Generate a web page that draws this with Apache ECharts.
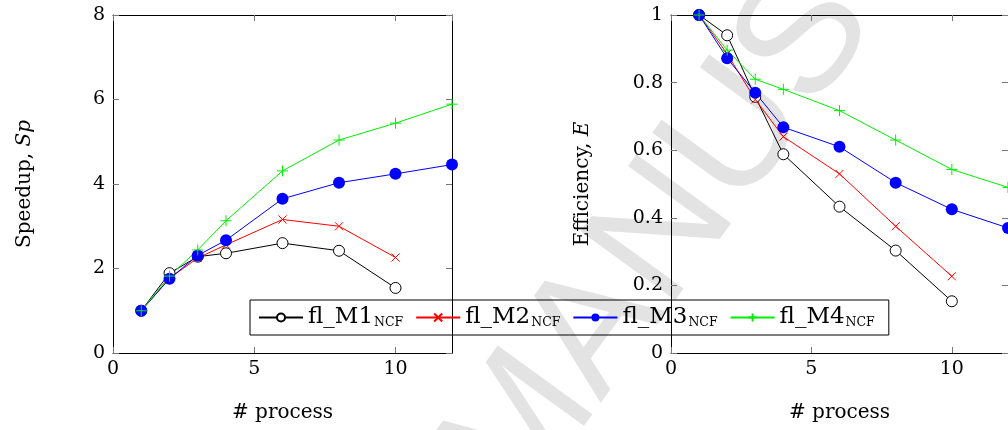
<!DOCTYPE html>
<html>
<head>
<meta charset="utf-8">
<script src="https://cdn.jsdelivr.net/npm/echarts@6/dist/echarts.min.js"></script>
<style>html,body{margin:0;padding:0;background:#fff;}#c{width:1008px;height:430px;}</style>
</head>
<body>
<div id="c"></div>
<script>
const procs = [1, 2, 3, 4, 6, 8, 10, 12];
const seriesNames = ['fl_M1', 'fl_M2', 'fl_M3', 'fl_M4'];
const spM1 = [1.0, 1.89, 2.28, 2.36, 2.60, 2.42, 1.54];
const spM2 = [1.0, 1.77, 2.25, 2.56, 3.16, 3.00, 2.26];
const spM3 = [1.0, 1.76, 2.31, 2.67, 3.65, 4.03, 4.24, 4.46];
const spM4 = [1.0, 1.82, 2.44, 3.13, 4.31, 5.04, 5.44, 5.89];
const effM1 = [1.0, 0.94, 0.758, 0.588, 0.433, 0.303, 0.153];
const effM2 = [1.0, 0.885, 0.75, 0.64, 0.53, 0.375, 0.227];
const effM3 = [1.0, 0.872, 0.77, 0.668, 0.61, 0.504, 0.425, 0.37];
const effM4 = [1.0, 0.896, 0.81, 0.78, 0.717, 0.63, 0.543, 0.49];
const spTicks = [0, 2, 4, 6, 8];
const effTicks = [0, 0.2, 0.4, 0.6, 0.8, 1];

const FONT = 'DejaVu Serif';
const pairs = (vals) => vals.map((v, i) => [procs[i], v]);

const styles = [
  {color: '#000', symbol: 'circle', size: 11, fill: '#fff'},
  {color: '#ff0000', symbol: 'path://M0,0L10,10M10,0L0,10', size: 8},
  {color: '#0000ff', symbol: 'circle', size: 12},
  {color: '#00ee00', symbol: 'path://M5,0L5,10M0,5L10,5', size: 11}
];

function mkSeries(name, vals, st, xi, yi) {
  const isPath = st.symbol.indexOf('path://') === 0;
  let itemStyle;
  if (isPath) itemStyle = {color: st.color, borderColor: st.color, borderWidth: 1};
  else if (st.fill) itemStyle = {color: st.fill, borderColor: st.color, borderWidth: 1};
  else itemStyle = {color: st.color, borderWidth: 0};
  return {
    name: name, type: 'line', xAxisIndex: xi, yAxisIndex: yi,
    data: pairs(vals),
    symbol: st.symbol, symbolSize: st.size,
    lineStyle: {color: st.color, width: 1},
    itemStyle: itemStyle,
    clip: true,
    animation: false,
    z: 3
  };
}

function xAx(gi, pos, showLabels, name) {
  return {
    type: 'value', gridIndex: gi, position: pos, min: 0, max: 12, interval: 5,
    name: name, nameLocation: 'middle', nameGap: 50,
    nameTextStyle: {fontFamily: FONT, fontSize: 20, color: '#000'},
    axisLine: {show: true, onZero: false, lineStyle: {color: '#000', width: 1}},
    axisTick: {show: true, inside: true, length: 6, lineStyle: {color: '#777', width: 1}},
    axisLabel: {show: showLabels, showMaxLabel: false, fontFamily: FONT, fontSize: 19, color: '#000', margin: 7},
    splitLine: {show: false}
  };
}
function yAx(gi, pos, showLabels, max, interval, nameRich) {
  return {
    type: 'value', gridIndex: gi, position: pos, min: 0, max: max, interval: interval,
    name: nameRich, nameLocation: 'middle', nameGap: 78, nameRotate: 90,
    nameTextStyle: {fontFamily: FONT, fontSize: 20, color: '#000',
      rich: {a: {fontFamily: FONT, fontSize: 20, color: '#000'}, b: {fontFamily: FONT, fontSize: 20, color: '#000', fontStyle: 'italic'}}},
    axisLine: {show: true, onZero: false, lineStyle: {color: '#000', width: 1}},
    axisTick: {show: true, inside: true, length: 6, lineStyle: {color: '#777', width: 1}},
    axisLabel: {show: showLabels, fontFamily: FONT, fontSize: 19, color: '#000', margin: 8},
    splitLine: {show: false}
  };
}

const series = [];
const spAll = [spM1, spM2, spM3, spM4];
const effAll = [effM1, effM2, effM3, effM4];
for (let i = 0; i < 4; i++) series.push(mkSeries(seriesNames[i], spAll[i], styles[i], 0, 0));
for (let i = 0; i < 4; i++) series.push(mkSeries(seriesNames[i], effAll[i], styles[i], 2, 2));

const option = {
  backgroundColor: '#fff',
  animation: false,
  grid: [
    {left: 113, top: 15, width: 339, height: 338},
    {left: 671, top: 15, width: 339, height: 338}
  ],
  xAxis: [
    xAx(0, 'bottom', true, '# process'),
    xAx(0, 'top', false, ''),
    xAx(1, 'bottom', true, '# process'),
    xAx(1, 'top', false, '')
  ],
  yAxis: [
    yAx(0, 'left', true, spTicks[spTicks.length - 1], spTicks[1] - spTicks[0], '{a|Speedup, }{b|Sp}'),
    yAx(0, 'right', false, spTicks[spTicks.length - 1], spTicks[1] - spTicks[0], ''),
    yAx(1, 'left', true, effTicks[effTicks.length - 1], 0.2, '{a|Efficiency, }{b|E}'),
    yAx(1, 'right', false, effTicks[effTicks.length - 1], 0.2, '')
  ],
  legend: {
    data: seriesNames,
    left: 250, top: 300,
    orient: 'horizontal',
    itemWidth: 44, itemHeight: 10, itemGap: 12,
    padding: [6, 14, 6, 8],
    borderColor: '#000', borderWidth: 1,
    backgroundColor: 'rgba(255,255,255,0)',
    formatter: (n) => '{m|' + n + '}{s|NCF}',
    textStyle: {
      fontFamily: FONT, color: '#000',
      rich: {
        m: {fontFamily: FONT, fontSize: 23, color: '#000', lineHeight: 28, verticalAlign: 'middle'},
        s: {fontFamily: FONT, fontSize: 12.5, color: '#000', lineHeight: 28, padding: [10, 0, 0, 1], verticalAlign: 'middle'}
      }
    },
    selectedMode: false
  },
  graphic: [{
    type: 'text', z: -10, silent: true,
    x: 548, y: 540, rotation: 54 * Math.PI / 180,
    style: {text: 'MANUSCRIPT', fontFamily: 'Liberation Sans', fontSize: 170, fill: '#e3e3e3', textAlign: 'left', textVerticalAlign: 'bottom'}
  }],
  series: series
};
const chart = echarts.init(document.getElementById('c'), null, {renderer: 'canvas'});
chart.setOption(option);
</script>
</body>
</html>
